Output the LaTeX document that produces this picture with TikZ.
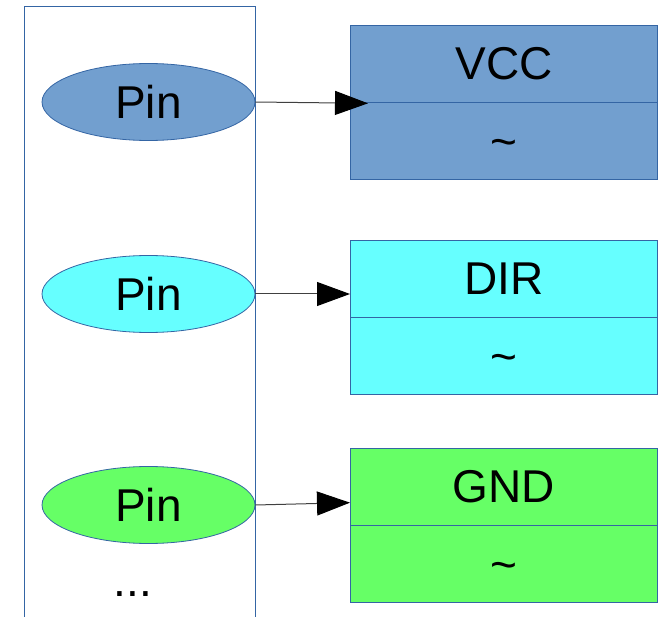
\documentclass[tikz,border=0pt]{standalone}
\usepackage{fontspec}
\setmainfont{Liberation Sans}
\usetikzlibrary{arrows.meta,shapes.geometric,calc}
\definecolor{edgeblue}{HTML}{3465A4}
\definecolor{vccblue}{HTML}{729FCF}
\definecolor{dircyan}{HTML}{66FFFF}
\definecolor{gndgreen}{HTML}{66FF66}
% tilde centred on the cell, independent of its glyph box
\newcommand{\valtilde}{\raisebox{-12.5pt}[0pt][0pt]{\textasciitilde}}
\tikzset{
  bigtext/.style={font=\fontsize{34.5}{40}\selectfont},
  pin/.style={ellipse, draw=edgeblue, line width=0.6pt, inner sep=0pt,
    minimum width=159.75pt, minimum height=57.75pt, bigtext},
  cell/.style={rectangle, draw=edgeblue, line width=0.6pt, inner sep=0pt,
    minimum width=230.25pt, minimum height=57.4pt, bigtext},
  link/.style={draw=black!75, line width=0.75pt,
    -{Triangle[length=24.75pt, width=18pt, color=black, fill=black]}},
}
\begin{document}
\begin{tikzpicture}[x=0.75pt, y=-0.75pt]
\useasboundingbox (0,0) rectangle (662,617);

% open container around the pins
\draw[edgeblue, line width=0.6pt] (24,617) -- (24,6) -- (255,6) -- (255,617);

% pins
\node[pin, fill=vccblue]  (p1) at (148.5,102) {Pin};
\node[pin, fill=dircyan]  (p2) at (148.5,294) {Pin};
\node[pin, fill=gndgreen] (p3) at (148.5,505) {Pin};
\node[bigtext] (more) at (133,594) {...};

% signal boxes: name cell on top, value cell below
\node[cell, fill=vccblue, anchor=north west] (vccT) at (350,25) {VCC};
\node[cell, fill=vccblue, anchor=north] (vccB) at (vccT.south) {\valtilde};
\node[cell, fill=dircyan, anchor=north west] (dirT) at (350,240) {DIR};
\node[cell, fill=dircyan, anchor=north] (dirB) at (dirT.south) {\valtilde};
\node[cell, fill=gndgreen, anchor=north west] (gndT) at (350,448) {GND};
\node[cell, fill=gndgreen, anchor=north] (gndB) at (gndT.south) {\valtilde};

% connectors
\coordinate (e1) at ($(vccT.south west)+(18,1)$);
\coordinate (e3) at ($(gndT.west)+(0,16)$);
\draw[link] (p1.east) -- (e1);
\draw[link] (p2.east) -- (p2.east -| dirT.west);
\draw[link] (p3.east) -- (e3);
\end{tikzpicture}
\end{document}
